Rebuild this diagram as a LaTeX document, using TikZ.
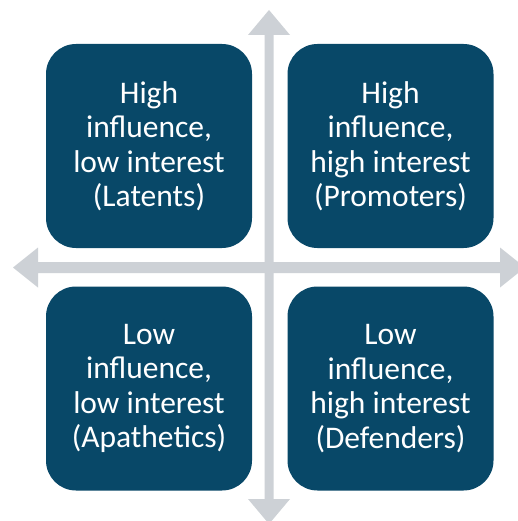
\documentclass[tikz,border=0pt]{standalone}
\usepackage{fontspec}
\setmainfont{Carlito}
\definecolor{boxblue}{HTML}{084868}
\definecolor{axisgray}{HTML}{CDD1D6}
\tikzset{
  quad/.style={fill=boxblue, rounded corners=30pt, minimum width=206pt, minimum height=204pt,
    text=white, align=center, inner sep=0pt,
    font=\fontsize{31.5}{34.5}\selectfont},
  axis/.style={fill=axisgray, draw=none}
}
\begin{document}
\begin{tikzpicture}[x=1pt,y=-1pt]
  \useasboundingbox (0,0) rectangle (518,521);
  \clip (0,0) rectangle (518,521);
  \fill[white] (0,0) rectangle (518,521);

  % axes: vertical double arrow, then horizontal double arrow
  \fill[axis] (264.5,35) -- (248,35) -- (269,10) -- (290,35) -- (273.5,35)
    -- (273.5,499) -- (290,499) -- (269,524) -- (248,499) -- (264.5,499) -- cycle;
  \fill[axis] (38,262) -- (38,247.5) -- (13,267.5) -- (38,287.5) -- (38,273)
    -- (500,273) -- (500,287.5) -- (525,267.5) -- (500,247.5) -- (500,262) -- cycle;

  % quadrants
  \node[quad] (latents)   at (149,146) {High\\influence,\\low interest\\(Latents)};
  \node[quad] (promoters) at (390.5,146) {High\\influence,\\high interest\\(Promoters)};
  \node[quad] (apathetics) at (149,388.5) {Low\\influence,\\low interest\\(Apathetics)};
  \node[quad] (defenders) at (390.5,388.5) {Low\\influence,\\high interest\\(Defenders)};
\end{tikzpicture}
\end{document}
